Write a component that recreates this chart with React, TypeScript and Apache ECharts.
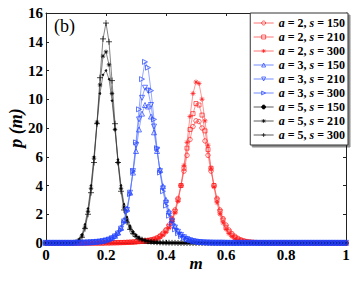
import React, { useEffect, useRef } from "react";
import * as echarts from "echarts";

const M = [
  0, 0.01, 0.02, 0.03, 0.04, 0.05, 0.06, 0.07, 0.08, 0.09,
  0.1, 0.11, 0.12, 0.13, 0.14, 0.15, 0.16, 0.17, 0.18, 0.19,
  0.2, 0.21, 0.22, 0.23, 0.24, 0.25, 0.26, 0.27, 0.28, 0.29,
  0.3, 0.31, 0.32, 0.33, 0.34, 0.35, 0.36, 0.37, 0.38, 0.39,
  0.4, 0.41, 0.42, 0.43, 0.44, 0.45, 0.46, 0.47, 0.48, 0.49,
  0.5, 0.51, 0.52, 0.53, 0.54, 0.55, 0.56, 0.57, 0.58, 0.59,
  0.6, 0.61, 0.62, 0.63, 0.64, 0.65, 0.66, 0.67, 0.68, 0.69,
  0.7, 0.71, 0.72, 0.73, 0.74, 0.75, 0.76, 0.77, 0.78, 0.79,
  0.8, 0.81, 0.82, 0.83, 0.84, 0.85, 0.86, 0.87, 0.88, 0.89,
  0.9, 0.91, 0.92, 0.93, 0.94, 0.95, 0.96, 0.97, 0.98, 0.99,
  1,
];

const red150 = [
  0, 0, 0, 0, 0, 0, 0, 0, 0, 0,
  0, 0, 0, 0, 0, 0, 0, 0, 0, 0,
  0.01, 0.01, 0.02, 0.02, 0.03, 0.03, 0.04, 0.05, 0.06, 0.07,
  0.09, 0.11, 0.13, 0.16, 0.19, 0.23, 0.28, 0.36, 0.5, 0.68,
  0.92, 1.25, 1.7, 2.3, 3.1, 4.0, 5.0, 6.1, 7.2, 8.1,
  8.5, 8.45, 8.0, 7.1, 6.1, 5.0, 4.0, 3.1, 2.3, 1.7,
  1.25, 0.9, 0.65, 0.46, 0.32, 0.22, 0.15, 0.1, 0.07, 0.05,
  0.035, 0.025, 0.02, 0.015, 0.01, 0.01, 0.01, 0.01, 0.01, 0.01,
  0, 0, 0, 0, 0, 0, 0, 0, 0, 0,
  0, 0, 0, 0, 0, 0, 0, 0, 0, 0,
  0,
];
const red210 = [
  0, 0, 0, 0, 0, 0, 0, 0, 0, 0,
  0, 0, 0, 0, 0, 0, 0, 0, 0, 0,
  0.01, 0.01, 0.01, 0.02, 0.02, 0.03, 0.03, 0.04, 0.05, 0.06,
  0.08, 0.1, 0.12, 0.14, 0.17, 0.2, 0.25, 0.33, 0.45, 0.62,
  0.85, 1.15, 1.6, 2.2, 3.0, 4.0, 5.2, 6.6, 7.9, 9.0,
  9.7, 9.6, 8.9, 7.8, 6.5, 5.2, 4.0, 3.0, 2.2, 1.6,
  1.1, 0.78, 0.55, 0.38, 0.26, 0.18, 0.12, 0.08, 0.06, 0.04,
  0.03, 0.02, 0.02, 0.01, 0.01, 0.01, 0.01, 0.01, 0, 0,
  0, 0, 0, 0, 0, 0, 0, 0, 0, 0,
  0, 0, 0, 0, 0, 0, 0, 0, 0, 0,
  0,
];
const red300 = [
  0, 0, 0, 0, 0, 0, 0, 0, 0, 0,
  0, 0, 0, 0, 0, 0, 0, 0, 0, 0,
  0.01, 0.01, 0.02, 0.02, 0.02, 0.03, 0.03, 0.04, 0.05, 0.06,
  0.07, 0.08, 0.1, 0.12, 0.15, 0.18, 0.23, 0.3, 0.4, 0.55,
  0.75, 1.05, 1.5, 2.1, 2.9, 4.0, 5.4, 7.0, 8.8, 10.4,
  11.2, 11.1, 10.0, 8.5, 6.8, 5.2, 3.9, 2.8, 2.0, 1.4,
  0.95, 0.65, 0.45, 0.3, 0.2, 0.14, 0.1, 0.07, 0.05, 0.04,
  0.03, 0.02, 0.02, 0.01, 0.01, 0.01, 0.01, 0.01, 0, 0,
  0, 0, 0, 0, 0, 0, 0, 0, 0, 0,
  0, 0, 0, 0, 0, 0, 0, 0, 0, 0,
  0,
];

const blue150 = [
  0.01, 0.01, 0.01, 0.01, 0.01, 0.01, 0.01, 0.01, 0.01, 0.01,
  0.02, 0.02, 0.03, 0.03, 0.04, 0.05, 0.07, 0.09, 0.11, 0.14,
  0.19, 0.26, 0.36, 0.5, 0.72, 1.07, 1.6, 2.4, 3.5, 4.9,
  6.4, 7.9, 9.0, 9.6, 9.5, 8.8, 7.7, 6.4, 5.1, 3.95,
  3.0, 2.2, 1.62, 1.18, 0.86, 0.62, 0.45, 0.32, 0.23, 0.16,
  0.11, 0.08, 0.06, 0.05, 0.04, 0.03, 0.03, 0.02, 0.02, 0.02,
  0.02, 0.02, 0.01, 0.01, 0.01, 0.01, 0.01, 0.01, 0.01, 0.01,
  0.01, 0.01, 0.01, 0.01, 0.01, 0.01, 0.01, 0.01, 0.01, 0.01,
  0.01, 0.01, 0.01, 0.01, 0.01, 0.01, 0.01, 0.01, 0.01, 0.01,
  0.01, 0.01, 0.01, 0.01, 0.01, 0.01, 0.01, 0.01, 0.01, 0.01,
  0.01,
];
const blue210 = [
  0.01, 0.01, 0.01, 0.01, 0.01, 0.01, 0.01, 0.01, 0.01, 0.01,
  0.02, 0.02, 0.02, 0.03, 0.04, 0.05, 0.06, 0.08, 0.1, 0.13,
  0.18, 0.24, 0.33, 0.46, 0.66, 1.0, 1.5, 2.3, 3.5, 5.0,
  6.8, 8.6, 10.1, 10.8, 10.6, 9.6, 8.1, 6.5, 5.0, 3.8,
  2.8, 2.05, 1.5, 1.08, 0.78, 0.56, 0.4, 0.28, 0.2, 0.14,
  0.1, 0.07, 0.05, 0.04, 0.03, 0.03, 0.02, 0.02, 0.02, 0.02,
  0.01, 0.01, 0.01, 0.01, 0.01, 0.01, 0.01, 0.01, 0.01, 0.01,
  0.01, 0.01, 0.01, 0.01, 0.01, 0.01, 0.01, 0.01, 0.01, 0.01,
  0.01, 0.01, 0.01, 0.01, 0.01, 0.01, 0.01, 0.01, 0.01, 0.01,
  0.01, 0.01, 0.01, 0.01, 0.01, 0.01, 0.01, 0.01, 0.01, 0.01,
  0.01,
];
const blue300 = [
  0.01, 0.01, 0.01, 0.01, 0.01, 0.01, 0.01, 0.01, 0.01, 0.01,
  0.02, 0.02, 0.03, 0.03, 0.04, 0.05, 0.06, 0.08, 0.1, 0.13,
  0.17, 0.22, 0.3, 0.42, 0.6, 0.9, 1.4, 2.2, 3.4, 5.0,
  7.0, 9.3, 11.4, 12.6, 12.2, 10.6, 8.6, 6.6, 4.9, 3.6,
  2.6, 1.9, 1.35, 0.95, 0.68, 0.48, 0.34, 0.24, 0.17, 0.12,
  0.09, 0.07, 0.05, 0.04, 0.03, 0.03, 0.02, 0.02, 0.02, 0.02,
  0.01, 0.01, 0.01, 0.01, 0.01, 0.01, 0.01, 0.01, 0.01, 0.01,
  0.01, 0.01, 0.01, 0.01, 0.01, 0.01, 0.01, 0.01, 0.01, 0.01,
  0.01, 0.01, 0.01, 0.01, 0.01, 0.01, 0.01, 0.01, 0.01, 0.01,
  0.01, 0.01, 0.01, 0.01, 0.01, 0.01, 0.01, 0.01, 0.01, 0.01,
  0.01,
];

const black150 = [
  0, 0, 0, 0, 0, 0, 0, 0, 0, 0,
  0.08, 0.25, 0.6, 1.3, 2.4, 4.0, 6.0, 8.3, 10.4, 11.7,
  12.0, 11.4, 9.9, 7.9, 5.8, 4.0, 2.7, 1.8, 1.2, 0.8,
  0.55, 0.38, 0.27, 0.19, 0.13, 0.09, 0.07, 0.05, 0.035, 0.025,
  0.02, 0.015, 0.01, 0.01, 0.01, 0.01, 0, 0, 0, 0,
  0, 0, 0, 0, 0, 0, 0, 0, 0, 0,
  0, 0, 0, 0, 0, 0, 0, 0, 0, 0,
  0, 0, 0, 0, 0, 0, 0, 0, 0, 0,
  0, 0, 0, 0, 0, 0, 0, 0, 0, 0,
  0, 0, 0, 0, 0, 0, 0, 0, 0, 0,
  0,
];
const black210 = [
  0, 0, 0, 0, 0, 0, 0, 0, 0, 0,
  0.05, 0.2, 0.5, 1.1, 2.2, 3.8, 5.9, 8.4, 11.0, 13.0,
  13.3, 12.4, 10.4, 7.9, 5.6, 3.8, 2.5, 1.6, 1.05, 0.7,
  0.48, 0.33, 0.23, 0.16, 0.11, 0.08, 0.06, 0.04, 0.03, 0.02,
  0.015, 0.01, 0.01, 0.01, 0, 0, 0, 0, 0, 0,
  0, 0, 0, 0, 0, 0, 0, 0, 0, 0,
  0, 0, 0, 0, 0, 0, 0, 0, 0, 0,
  0, 0, 0, 0, 0, 0, 0, 0, 0, 0,
  0, 0, 0, 0, 0, 0, 0, 0, 0, 0,
  0, 0, 0, 0, 0, 0, 0, 0, 0, 0,
  0,
];
const black300 = [
  0, 0, 0, 0, 0, 0, 0, 0, 0, 0,
  0.05, 0.15, 0.4, 1.0, 2.0, 3.5, 5.6, 8.3, 11.5, 14.2,
  15.3, 14.0, 11.3, 8.3, 5.6, 3.6, 2.3, 1.45, 0.95, 0.65,
  0.45, 0.32, 0.23, 0.17, 0.12, 0.09, 0.07, 0.05, 0.04, 0.03,
  0.02, 0.02, 0.01, 0.01, 0, 0, 0, 0, 0, 0,
  0, 0, 0, 0, 0, 0, 0, 0, 0, 0,
  0, 0, 0, 0, 0, 0, 0, 0, 0, 0,
  0, 0, 0, 0, 0, 0, 0, 0, 0, 0,
  0, 0, 0, 0, 0, 0, 0, 0, 0, 0,
  0, 0, 0, 0, 0, 0, 0, 0, 0, 0,
  0,
];

const xTickLabels = ["0", "0.2", "0.4", "0.6", "0.8", "1"];
const yTickLabels = ["0", "2", "4", "6", "20", "10", "12", "14", "16"];

const ASTER = "path://M5,0L5,10M0,5L10,5M1.5,1.5L8.5,8.5M1.5,8.5L8.5,1.5";
const PLUS = "path://M5,0L5,10M0,5L10,5";

const SERIF = "Liberation Serif";
const RED = "#ff1a1a";
const RED_LINE = "#ff5050";
const BLUE = "#2040ff";
const BLUE_LINE = "#5070ff";
const BLACK = "#000000";
const BLACK_LINE = "#333333";

type Spec = {
  name: string;
  values: number[];
  color: string;
  line: string;
  symbol: string;
  size: number;
  fill: string;
  rotate?: number;
};

const specs: Spec[] = [
  { name: "a = 2, s = 150", values: red150, color: RED, line: RED_LINE, symbol: "circle", size: 4.5, fill: "transparent" },
  { name: "a = 2, s = 210", values: red210, color: RED, line: RED_LINE, symbol: "rect", size: 4, fill: "transparent" },
  { name: "a = 2, s = 300", values: red300, color: RED, line: RED_LINE, symbol: ASTER, size: 5, fill: RED },
  { name: "a = 5, s = 150", values: black150, color: BLACK, line: BLACK_LINE, symbol: "circle", size: 1.6, fill: BLACK },
  { name: "a = 5, s = 210", values: black210, color: BLACK, line: BLACK_LINE, symbol: ASTER, size: 4.5, fill: BLACK },
  { name: "a = 5, s = 300", values: black300, color: BLACK, line: BLACK_LINE, symbol: PLUS, size: 6, fill: BLACK },
  { name: "a = 3, s = 150", values: blue150, color: BLUE, line: BLUE_LINE, symbol: "triangle", size: 5, fill: "transparent" },
  { name: "a = 3, s = 210", values: blue210, color: BLUE, line: BLUE_LINE, symbol: "triangle", size: 5, fill: "transparent", rotate: 180 },
  { name: "a = 3, s = 300", values: blue300, color: BLUE, line: BLUE_LINE, symbol: "triangle", size: 5, fill: "transparent", rotate: -90 },
];

const legendOrder = [
  "a = 2, s = 150",
  "a = 2, s = 210",
  "a = 2, s = 300",
  "a = 3, s = 150",
  "a = 3, s = 210",
  "a = 3, s = 300",
  "a = 5, s = 150",
  "a = 5, s = 210",
  "a = 5, s = 300",
];

export default function App() {
  const ref = useRef<HTMLDivElement>(null);
  useEffect(() => {
    if (!ref.current) return;
    const chart = echarts.init(ref.current, null, { renderer: "svg" });
    const labelStyle = {
      color: "#000",
      fontFamily: SERIF,
      fontWeight: "bold" as const,
      fontSize: 15,
    };
    const axisLine = { show: true, onZero: false, lineStyle: { color: "#222", width: 1 } };
    const axisTick = { show: true, inside: true, length: 3, lineStyle: { color: "#222", width: 1 } };
    const series = specs.map((s) => ({
      type: "line",
      name: s.name,
      data: M.map((m, i) => [m, s.values[i]]),
      symbol: s.symbol,
      symbolSize: s.size,
      symbolRotate: s.rotate ?? 0,
      showSymbol: true,
      showAllSymbol: true,
      color: s.color,
      lineStyle: { color: s.line, width: 0.6 },
      itemStyle: { color: s.fill, borderColor: s.color, borderWidth: 0.7 },
      emphasis: { disabled: true },
      silent: true,
    }));
    const legendData = legendOrder.map((n) => {
      const s = specs.find((x) => x.name === n)!;
      return {
        name: n,
        itemStyle: { color: s.fill, borderColor: s.color, borderWidth: 0.7 },
        lineStyle: { color: s.line, width: 0.8 },
      };
    });
    chart.setOption({
      animation: false,
      backgroundColor: "#fff",
      grid: { left: 46, right: 8, top: 13, bottom: 39, containLabel: false, outerBoundsMode: "none" },
      xAxis: [
        {
          type: "value",
          min: 0,
          max: 1,
          interval: 0.2,
          position: "bottom",
          axisLine,
          axisTick,
          splitLine: { show: false },
          axisLabel: {
            ...labelStyle,
            margin: 4,
            formatter: (v: number) => xTickLabels[Math.round(v / 0.2)] ?? "",
          },
          name: "m",
          nameLocation: "middle",
          nameGap: 12,
          nameMoveOverlap: false,
          nameTextStyle: {
            color: "#000",
            fontFamily: SERIF,
            fontWeight: "bold",
            fontStyle: "italic",
            fontSize: 17,
          },
        },
        {
          type: "value",
          min: 0,
          max: 1,
          interval: 0.2,
          position: "top",
          axisLine,
          axisTick,
          splitLine: { show: false },
          axisLabel: { show: false },
        },
      ],
      yAxis: [
        {
          type: "value",
          min: 0,
          max: 16,
          interval: 2,
          position: "left",
          axisLine,
          axisTick,
          splitLine: { show: false },
          axisLabel: {
            ...labelStyle,
            margin: 3,
            formatter: (v: number) => yTickLabels[Math.round(v / 2)] ?? "",
          },
          name: "p (m)",
          nameLocation: "middle",
          nameGap: 21,
          nameMoveOverlap: false,
          nameTextStyle: {
            color: "#000",
            fontFamily: SERIF,
            fontWeight: "bold",
            fontStyle: "italic",
            fontSize: 18,
          },
        },
        {
          type: "value",
          min: 0,
          max: 16,
          interval: 2,
          position: "right",
          axisLine,
          axisTick,
          splitLine: { show: false },
          axisLabel: { show: false },
        },
      ],
      legend: {
        data: legendData,
        orient: "vertical",
        right: 6,
        top: 13,
        itemWidth: 20,
        itemHeight: 5,
        itemGap: 2,
        padding: [4, 3, 4, 3],
        backgroundColor: "#fff",
        borderColor: "#333",
        borderWidth: 1,
        shadowColor: "rgba(0,0,0,0.45)",
        shadowOffsetX: 2,
        shadowOffsetY: 2,
        shadowBlur: 0,
        selectedMode: false,
        formatter: (n: string) => {
          const parts = n.split(", ");
          const a = parts[0].replace("a = ", "");
          const s = parts[1].replace("s = ", "");
          return `{i|a} = ${a}, {i|s} = ${s}`;
        },
        textStyle: {
          color: "#000",
          fontFamily: SERIF,
          fontWeight: "bold",
          fontSize: 12,
          lineHeight: 12,
          rich: {
            i: {
              fontFamily: SERIF,
              fontWeight: "bold",
              fontStyle: "italic",
              fontSize: 12,
              lineHeight: 12,
            },
          },
        },
      },
      graphic: [
        {
          type: "text",
          left: 54,
          top: 17,
          style: { text: "(b)", fill: "#000", font: `18px '${SERIF}'` },
        },
      ],
      series,
    });
    return () => chart.dispose();
  }, []);
  return (
    <div
      ref={ref}
      style={{ position: "absolute", left: 0, top: 0, width: 354, height: 282 }}
    />
  );
}
